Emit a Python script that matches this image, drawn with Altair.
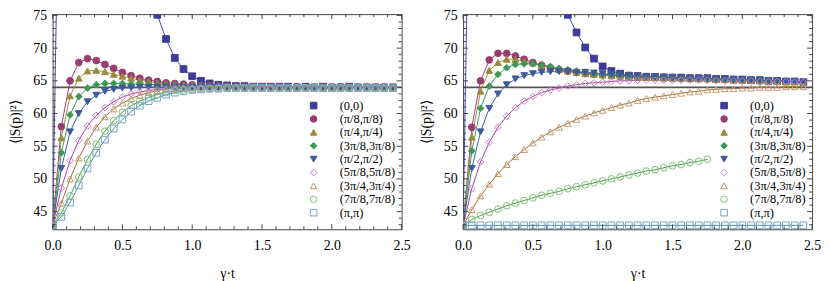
import altair as alt
import pandas as pd

T = [0.0, 0.0625, 0.125, 0.1875, 0.25, 0.3125, 0.375, 0.4375, 0.5, 0.5625,
     0.625, 0.6875, 0.75, 0.8125, 0.875, 0.9375, 1.0, 1.0625, 1.125, 1.1875,
     1.25, 1.3125, 1.375, 1.4375, 1.5, 1.5625, 1.625, 1.6875, 1.75, 1.8125,
     1.875, 1.9375, 2.0, 2.0625, 2.125, 2.1875, 2.25, 2.3125, 2.375, 2.4375]

SERIES = ["(0,0)", "(π/8,π/8)", "(π/4,π/4)", "(3π/8,3π/8)", "(π/2,π/2)",
          "(5π/8,5π/8)", "(3π/4,3π/4)", "(7π/8,7π/8)", "(π,π)"]

# ---- left panel ----
L_00 = [42.9, 120, 150, 160, 155, 145, 133, 121, 108, 92,
        85.5, 79.8, 75.1, 71.4, 68.5, 66.8, 65.7, 65.0, 64.6, 64.4,
        64.3, 64.2, 64.2, 64.1, 64.1, 64.1, 64.1, 64.1, 64.0, 64.1,
        64.0, 64.1, 64.0, 64.0, 64.1, 64.0, 64.0, 64.0, 64.0, 64.0]
L_PI8 = [42.9, 58.0, 65.0, 67.8, 68.4, 68.1, 67.5, 66.9, 66.3, 65.8,
         65.4, 65.1, 64.9, 64.7, 64.6, 64.5, 64.4, 64.3, 64.3, 64.2,
         64.2, 64.2, 64.1, 64.1, 64.1, 64.1, 64.1, 64.0, 64.1, 64.0,
         64.0, 64.0, 64.0, 64.1, 64.0, 64.0, 64.0, 64.0, 64.0, 64.0]
L_PI4 = [42.9, 56.3, 62.7, 65.4, 66.5, 66.6, 66.4, 66.0, 65.7, 65.4,
         65.1, 64.9, 64.7, 64.6, 64.5, 64.4, 64.3, 64.3, 64.2, 64.2,
         64.1, 64.1, 64.1, 64.1, 64.0, 64.1, 64.0, 64.0, 64.0, 64.0,
         64.0, 64.0, 63.9, 64.0, 64.0, 64.0, 64.0, 63.9, 64.0, 64.0]
L_3PI8 = [42.9, 54.0, 59.8, 62.6, 63.9, 64.4, 64.6, 64.6, 64.6, 64.5,
          64.5, 64.4, 64.4, 64.3, 64.3, 64.2, 64.2, 64.2, 64.1, 64.1,
          64.1, 64.1, 64.0, 64.1, 64.0, 64.0, 64.0, 64.0, 64.0, 64.0,
          64.0, 64.0, 64.0, 64.0, 64.0, 64.0, 64.0, 64.0, 64.0, 64.0]
L_PI2 = [42.9, 51.6, 57.2, 60.0, 61.8, 62.8, 63.4, 63.7, 63.9, 63.9,
         64.0, 64.0, 64.0, 64.0, 64.0, 64.0, 64.0, 64.0, 64.0, 64.0,
         64.0, 64.0, 64.0, 64.0, 64.0, 64.0, 64.0, 64.0, 64.0, 64.0,
         64.0, 64.0, 64.0, 64.0, 64.0, 64.0, 64.0, 64.0, 64.0, 64.0]
L_5PI8 = [42.9, 48.6, 52.8, 55.9, 58.1, 59.7, 60.9, 61.8, 62.5, 63.0,
          63.3, 63.5, 63.7, 63.8, 63.9, 63.9, 63.9, 63.9, 63.9, 63.9,
          63.9, 63.9, 63.9, 63.9, 63.9, 63.9, 63.9, 63.9, 63.9, 63.9,
          63.9, 63.9, 63.9, 63.9, 63.9, 63.9, 63.9, 63.9, 63.9, 63.9]
L_3PI4 = [42.9, 46.3, 50.0, 53.2, 55.8, 57.9, 59.5, 60.7, 61.6, 62.3,
          62.8, 63.2, 63.5, 63.7, 63.8, 63.9, 63.9, 63.9, 63.9, 63.9,
          63.9, 63.9, 63.9, 63.9, 63.9, 63.9, 63.9, 63.9, 63.9, 63.9,
          63.9, 63.9, 63.9, 63.9, 63.9, 63.9, 63.9, 63.9, 63.9, 63.9]
L_7PI8 = [42.9, 44.8, 47.4, 50.3, 53.0, 55.3, 57.3, 58.9, 60.2, 61.2,
          61.9, 62.5, 62.9, 63.2, 63.5, 63.6, 63.7, 63.8, 63.8, 63.9,
          63.9, 63.9, 63.9, 63.9, 63.9, 63.9, 63.9, 63.9, 63.9, 63.9,
          63.9, 63.9, 63.9, 63.9, 63.9, 63.9, 63.9, 63.9, 63.9, 63.9]
L_PIPI = [42.9, 44.2, 46.4, 49.0, 51.6, 54.0, 56.0, 57.7, 59.1, 60.3,
          61.2, 61.9, 62.4, 62.9, 63.2, 63.4, 63.6, 63.7, 63.8, 63.8,
          63.9, 63.9, 63.9, 63.9, 63.9, 63.9, 63.9, 63.9, 63.9, 63.9,
          63.9, 63.9, 63.9, 63.9, 63.9, 63.9, 63.9, 63.9, 63.9, 63.9]

# ---- right panel ----
R_00 = [42.9, 120, 140, 135, 126, 117, 108, 100, 93, 87,
        82.2, 78.3, 75.1, 72.4, 70.1, 68.4, 67.2, 66.5, 66.1, 65.8,
        65.7, 65.6, 65.6, 65.5, 65.5, 65.5, 65.4, 65.4, 65.4, 65.3,
        65.3, 65.2, 65.2, 65.1, 65.1, 65.0, 65.0, 64.9, 64.9, 64.8]
R_PI8 = [42.9, 57.9, 65.0, 68.2, 69.2, 69.2, 68.8, 68.3, 67.8, 67.4,
         67.0, 66.7, 66.5, 66.3, 66.1, 66.0, 65.9, 65.8, 65.7, 65.7,
         65.6, 65.6, 65.5, 65.5, 65.5, 65.4, 65.4, 65.4, 65.3, 65.3,
         65.2, 65.2, 65.1, 65.1, 65.0, 65.0, 65.0, 64.9, 64.9, 64.8]
R_PI4 = [42.9, 56.4, 63.4, 66.6, 67.8, 68.3, 68.3, 68.0, 67.7, 67.3,
         67.0, 66.7, 66.5, 66.3, 66.1, 66.0, 65.9, 65.8, 65.7, 65.6,
         65.6, 65.5, 65.5, 65.5, 65.4, 65.4, 65.4, 65.3, 65.3, 65.2,
         65.2, 65.1, 65.1, 65.1, 65.0, 65.0, 64.9, 64.9, 64.9, 64.8]
R_3PI8 = [42.9, 54.3, 60.8, 64.2, 66.0, 67.0, 67.5, 67.6, 67.6, 67.4,
          67.2, 66.9, 66.7, 66.5, 66.3, 66.1, 66.0, 65.9, 65.8, 65.7,
          65.7, 65.6, 65.6, 65.5, 65.5, 65.4, 65.4, 65.4, 65.3, 65.3,
          65.2, 65.2, 65.1, 65.1, 65.1, 65.0, 65.0, 64.9, 64.9, 64.8]
R_PI2 = [42.9, 51.6, 57.2, 60.8, 63.0, 64.4, 65.3, 65.8, 66.1, 66.3,
         66.4, 66.4, 66.4, 66.3, 66.3, 66.2, 66.1, 66.0, 65.9, 65.8,
         65.8, 65.7, 65.6, 65.6, 65.5, 65.5, 65.4, 65.4, 65.4, 65.3,
         65.3, 65.2, 65.2, 65.1, 65.1, 65.0, 65.0, 64.9, 64.9, 64.8]
R_5PI8 = [42.9, 48.5, 52.6, 55.6, 57.9, 59.6, 60.9, 61.9, 62.6, 63.2,
          63.6, 63.9, 64.2, 64.4, 64.6, 64.7, 64.8, 64.9, 65.0, 65.0,
          65.1, 65.1, 65.1, 65.1, 65.1, 65.1, 65.1, 65.1, 65.1, 65.0,
          65.0, 65.0, 65.0, 65.0, 64.9, 64.9, 64.9, 64.9, 64.8, 64.8]
R_3PI4 = [42.9, 45.3, 47.4, 49.2, 50.8, 52.2, 53.4, 54.5, 55.5, 56.4,
          57.2, 57.9, 58.5, 59.1, 59.6, 60.1, 60.5, 60.9, 61.3, 61.6,
          62.0, 62.3, 62.5, 62.7, 62.9, 63.1, 63.3, 63.4, 63.6, 63.7,
          63.8, 63.8, 63.9, 63.9, 64.0, 64.0, 64.0, 64.1, 64.1, 64.1]
R_7PI8 = [42.9, 43.8, 44.4, 44.9, 45.4, 45.9, 46.3, 46.7, 47.1, 47.5,
          47.8, 48.1, 48.5, 48.8, 49.1, 49.4, 49.7, 50.0, 50.3, 50.6,
          50.9, 51.2, 51.4, 51.7, 52.0, 52.2, 52.5, 52.7, 53.0]
R_PIPI = [42.9, 42.9, 42.9, 42.9, 42.9, 42.9, 42.9, 42.9, 42.9, 42.9,
          42.9, 42.9, 42.9, 42.9, 42.9, 42.9, 42.9, 42.9, 42.9, 42.9,
          42.9, 42.9, 42.9, 42.9, 42.9, 42.9, 42.9, 42.9, 42.9, 42.9,
          42.9, 42.9, 42.9, 42.9, 42.9, 42.9, 42.9, 42.9, 42.9, 42.9]

REFERENCE_LEVEL = [64.0]

X_LABELS = [0.0, 0.5, 1.0, 1.5, 2.0, 2.5]
Y_LABELS = [45, 50, 55, 60, 65, 70, 75]
X_MINOR = [0.1, 0.2, 0.3, 0.4, 0.6, 0.7, 0.8, 0.9, 1.1, 1.2, 1.3, 1.4,
           1.6, 1.7, 1.8, 1.9, 2.1, 2.2, 2.3, 2.4]
Y_MINOR = [43, 44, 46, 47, 48, 49, 51, 52, 53, 54, 56, 57, 58, 59, 61, 62,
           63, 64, 66, 67, 68, 69, 71, 72, 73, 74]

LINE_COLORS = ["#4646B4", "#A83A7C", "#A39240", "#3C9E55", "#3D5EA6",
               "#A844A2", "#A46C38", "#4A9E42", "#4C88AC"]
MARK_STROKE = ["#3D3D99", "#993D71", "#998B3D", "#3D9956", "#3D5A99",
               "#C47CC2", "#C49A6E", "#7DBE7A", "#74A6C4"]
MARK_FILL = ["#3D3D99", "#993D71", "#998B3D", "#3D9956", "#3D5A99",
             "transparent", "transparent", "transparent", "transparent"]
SHAPES = ["square", "circle", "triangle-up", "diamond", "triangle-down",
          "diamond", "triangle-up", "circle", "square"]

FONT = "Liberation Serif"
W, H = 352, 217
MAJOR_LEN, MINOR_LEN = 5, 3
FRAME = "#444444"


def frame(lists):
    rows = []
    for name, vals in zip(SERIES, lists):
        for t, v in zip(T, vals):
            rows.append({"series": name, "t": t, "v": v})
    return pd.DataFrame(rows)


def panel(df):
    xs = alt.Scale(domain=[0, 2.5], nice=False, zero=False)
    ys = alt.Scale(domain=[42.3, 75.2], nice=False, zero=False)
    xax = alt.Axis(values=X_LABELS, format=".1f", title="γ·t", ticks=False,
                   tickSize=0, domain=False, grid=False, labelPadding=9.5,
                   titlePadding=14, labelFlush=False, labelOverlap=False,
                   labelFont=FONT, titleFont=FONT, labelFontSize=14,
                   titleFontSize=14)
    yax = alt.Axis(values=Y_LABELS, format="d", title="⟨|S(p)|²⟩", ticks=False,
                   tickSize=0, domain=False, grid=False, labelPadding=6,
                   titlePadding=10, labelFlush=False, labelOverlap=False,
                   labelFont=FONT, titleFont=FONT, labelFontSize=14,
                   titleFontSize=14)

    leg = alt.Legend(orient="none", legendX=257, legendY=86, padding=0,
                     labelFont=FONT, labelFontSize=12.5, labelColor="black",
                     symbolSize=44, symbolStrokeWidth=1, labelOffset=20,
                     rowPadding=0.5)

    X = alt.X("t:Q", scale=xs, axis=xax)
    Y = alt.Y("v:Q", scale=ys, axis=yax)

    rule = alt.Chart(pd.DataFrame({"v": REFERENCE_LEVEL})).mark_rule(
        color="#555555", strokeWidth=1.6
    ).encode(y=Y)

    # line colours use a data-driven (sorted) domain so that this hidden
    # legend is not merged with the marker legend
    lines = alt.Chart(df).mark_line(strokeWidth=1, clip=True).encode(
        x=X, y=Y,
        color=alt.Color("series:N", sort=SERIES,
                        scale=alt.Scale(range=LINE_COLORS), legend=None),
        order="t:Q",
    )

    points = alt.Chart(df).mark_point(size=46, strokeWidth=1, opacity=1,
                                      clip=True).encode(
        x=X, y=Y,
        shape=alt.Shape("series:N", scale=alt.Scale(domain=SERIES, range=SHAPES),
                        legend=leg, title=None),
        stroke=alt.Stroke("series:N", scale=alt.Scale(domain=SERIES, range=MARK_STROKE),
                          legend=leg, title=None),
        fill=alt.Fill("series:N", scale=alt.Scale(domain=SERIES, range=MARK_FILL),
                      legend=leg, title=None),
    )

    tick_layers = []
    for vals, ln in ((X_LABELS, MAJOR_LEN), (X_MINOR, MINOR_LEN)):
        d = alt.Chart(pd.DataFrame({"t": vals}))
        tick_layers.append(d.mark_rule(color=FRAME, strokeWidth=1).encode(
            x=X, y=alt.value(H), y2=alt.value(H - ln)))
        tick_layers.append(d.mark_rule(color=FRAME, strokeWidth=1).encode(
            x=X, y=alt.value(0), y2=alt.value(ln)))
    for vals, ln in ((Y_LABELS, MAJOR_LEN), (Y_MINOR, MINOR_LEN)):
        d = alt.Chart(pd.DataFrame({"v": vals}))
        tick_layers.append(d.mark_rule(color=FRAME, strokeWidth=1).encode(
            y=Y, x=alt.value(0), x2=alt.value(ln)))
        tick_layers.append(d.mark_rule(color=FRAME, strokeWidth=1).encode(
            y=Y, x=alt.value(W), x2=alt.value(W - ln)))

    return alt.layer(rule, lines, points, *tick_layers).properties(
        width=W, height=H)


left_df = frame([L_00, L_PI8, L_PI4, L_3PI8, L_PI2, L_5PI8, L_3PI4, L_7PI8, L_PIPI])
right_df = frame([R_00, R_PI8, R_PI4, R_3PI8, R_PI2, R_5PI8, R_3PI4, R_7PI8, R_PIPI])

chart = alt.hconcat(panel(left_df), panel(right_df), spacing=7).resolve_scale(
    shape="independent", stroke="independent", fill="independent",
    color="independent"
).resolve_legend(
    shape="independent", stroke="independent", fill="independent"
).properties(
    padding={"left": 0, "top": -2, "right": 0, "bottom": 0}
).configure_view(
    stroke=FRAME, strokeWidth=1
).configure_axis(
    labelFont=FONT, labelFontSize=14, labelColor="black",
    titleFont=FONT, titleFontSize=14, titleFontWeight="normal", titleColor="black"
)

chart.save("out.html", embed_options={"renderer": "svg", "actions": False})
